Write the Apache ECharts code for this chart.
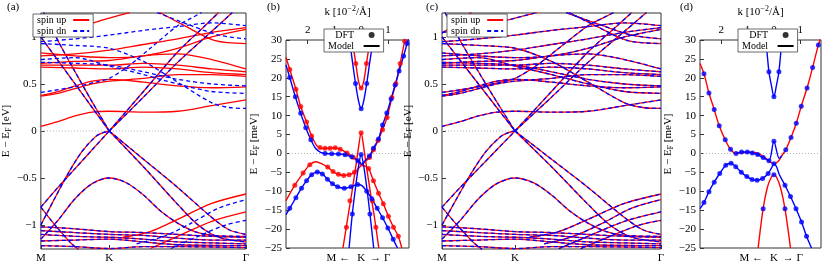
<!DOCTYPE html>
<html><head><meta charset="utf-8">
<script src="https://cdn.jsdelivr.net/npm/echarts@6/dist/echarts.min.js"></script>
<style>html,body{margin:0;padding:0;background:#fff}#c{width:822px;height:264px}</style>
</head><body><div id="c"></div>
<script>
// ---------- tick labels / categories ----------
const pathTicks = [0, 1, 3];
const pathNames = ['M', 'K', 'Γ'];
const eTicksEV = [-1, -0.5, 0, 0.5, 1];
const kTicks = [-2, -1, 0, 1];
const kPathPos = [-0.86, 0, 0.72];
const kPathNames = ['M ←', 'K', '→ Γ'];
const legendAC = ['spin up', 'spin dn'];
const legendBD = ['DFT', 'Model'];

// ---------- panels (a),(c): bands, x: M=0, K=1, Γ=3 ; E in eV ----------
const bandsBoth = [
  [[0,-0.81],[0.25,-0.6],[0.5,-0.4],[0.75,-0.2],[1,0]],
  [[0,-1.0],[0.2,-0.72],[0.4,-0.45],[0.6,-0.22],[0.8,-0.06],[0.9,-0.02],[1,0]],
  [[1,0],[1.5,-0.3],[2,-0.6],[2.5,-0.92],[2.75,-1.05],[3,-1.1]],
  [[1,0],[1.5,-0.38],[2,-0.78],[2.3,-1.0],[2.6,-1.13],[3,-1.18]],
  [[0,-1.15],[0.25,-0.95],[0.5,-0.72],[0.75,-0.56],[1,-0.5],[1.25,-0.55],[1.5,-0.68],[1.75,-0.85],[2,-0.98],[2.25,-1.07],[2.5,-1.11],[3,-1.12]],
  [[0,1.0],[0.25,0.75],[0.5,0.5],[0.75,0.25],[1,0]],
  [[0.04,1.26],[0.25,0.96],[0.5,0.63],[0.75,0.31],[1,0]],
  [[1,0],[1.5,0.36],[2,0.73],[2.5,1.06],[2.8,1.26]],
  [[1,0],[1.5,0.42],[2,0.84],[2.4,1.12],[2.6,1.26]],
  [[0,-0.81],[0.15,-0.95],[0.3,-1.08],[0.45,-1.2],[0.55,-1.26]],
  [[0,-1.02],[0.5,-1.04],[1,-1.07],[1.5,-1.08],[2,-1.1],[2.5,-1.12],[3,-1.13]],
  [[0,-1.06],[0.5,-1.08],[1,-1.1],[1.5,-1.11],[2,-1.14],[2.5,-1.16],[3,-1.16]],
  [[0,-1.1],[0.5,-1.12],[1,-1.13],[1.5,-1.15],[2,-1.18],[2.5,-1.19],[3,-1.2]],
  [[0,-1.17],[0.5,-1.16],[1,-1.15],[1.5,-1.18],[2,-1.21],[3,-1.22]],
  [[0,-1.22],[0.5,-1.23],[1,-1.25],[1.5,-1.23],[2,-1.23],[3,-1.24]]
];
const bandsUp = [
  [[0,0.05],[0.25,0.1],[0.5,0.16],[0.75,0.2],[1,0.21],[1.5,0.2],[2,0.21],[2.5,0.27],[3,0.33]],
  [[0,0.37],[0.25,0.4],[0.5,0.45],[0.75,0.5],[1,0.53],[1.5,0.56],[2,0.6],[2.5,0.6],[3,0.58]],
  [[0,0.38],[0.25,0.42],[0.5,0.48],[0.75,0.53],[1,0.55],[1.5,0.52],[2,0.48],[2.5,0.46],[3,0.47]],
  [[0,0.68],[0.5,0.67],[1,0.66],[1.5,0.68],[2,0.66],[2.5,0.62],[3,0.6]],
  [[0,0.7],[0.5,0.7],[1,0.7],[1.5,0.72],[2,0.7],[2.5,0.66],[3,0.63]],
  [[0,0.72],[0.5,0.74],[1,0.75],[1.5,0.8],[2,0.82],[2.5,0.76],[3,0.66]],
  [[0,0.8],[0.5,0.82],[1,0.86],[1.5,0.92],[2,0.98],[2.5,1.05],[3,1.1]],
  [[0,0.83],[0.5,0.8],[1,0.78],[1.5,0.8],[2,0.88],[2.5,1.0],[3,1.08]],
  [[1.74,1.26],[2.1,1.12],[2.55,0.96],[3,0.93]],
  [[0,1.05],[0.5,1.1],[1,1.2],[1.3,1.26]],
  [[1.2,-1.13],[1.6,-1.07],[2,-0.94],[2.5,-0.77],[3,-0.67]],
  [[1.6,-1.25],[2,-1.12],[2.5,-0.96],[3,-0.86]]
];
const bandsDn = [
  [[0,0.41],[0.5,0.47],[0.8,0.52],[1,0.56],[1.3,0.7],[1.6,0.88],[2,1.12],[2.2,1.2],[2.35,1.26]],
  [[0,0.73],[0.5,0.72],[1,0.7],[1.5,0.63],[2,0.55],[2.5,0.5],[3,0.48]],
  [[0,0.76],[0.5,0.78],[1,0.69],[1.5,0.6],[2,0.5],[2.5,0.42],[3,0.4]],
  [[0,0.93],[0.5,0.91],[1,0.88],[1.5,0.74],[2,0.52],[2.5,0.3],[2.75,0.25],[3,0.24]],
  [[0,0.95],[0.5,0.98],[1,1.02],[1.5,1.07],[2,1.11],[2.5,1.15],[3,1.12]],
  [[0,1.04],[0.3,1.2],[0.4,1.26]],
  [[1.7,1.26],[2.2,1.12],[2.6,1.02],[3,0.98]],
  [[1.4,-1.2],[1.8,-1.12],[2.2,-0.98],[2.6,-0.82],[3,-0.73]],
  [[1.9,-1.25],[2.3,-1.12],[2.7,-1.0],[3,-0.95]]
];

// ---------- panel (b): k in 1e-2/Å, E in meV ----------
const bRedModel = [
  [[-0.33,30],[-0.2,23.8],[-0.1,19.2],[0,17.3],[0.1,19.2],[0.2,23.8],[0.33,30]],
  [[-2.81,25.4],[-2.67,22.2],[-2.44,17.0],[-2.26,12.4],[-2.04,8.3],[-1.85,4.6],[-1.65,2.0],[-1.45,1.3],[-1.2,1.4],[-0.97,1.5],[-0.78,1.1],[-0.53,0.15],[-0.3,-1.0],[-0.12,-2.2],[0,-3]],
  [[-2.81,-12.5],[-2.48,-8.4],[-2.17,-5.2],[-1.92,-3.0],[-1.7,-2.2],[-1.45,-2.8],[-1.25,-3.6],[-1.05,-4.8],[-0.85,-5.5],[-0.65,-5.8],[-0.45,-5.6],[-0.25,-5.0],[-0.1,-4.0],[0,-3.2]],
  [[-0.68,-25],[-0.5,-17],[-0.35,-10.5],[-0.2,-3.5],[-0.1,1.5],[0,5.5],[0.1,1.5],[0.2,-3.5],[0.35,-10.5],[0.5,-17],[0.66,-25]],
  [[0,-3.2],[0.15,-2.2],[0.31,-1.1],[0.46,0.95],[0.63,3.4],[0.8,6.3],[0.97,9.5],[1.15,14.8],[1.3,18.5],[1.46,23.8],[1.63,29.7],[1.7,31]],
  [[0,-3.2],[0.12,-3.3],[0.28,-4],[0.46,-7.2],[0.65,-10.5],[0.83,-13.3],[1.02,-16.6],[1.21,-19.5],[1.39,-21.9],[1.52,-25]]
];
const bBlueModel = [
  [[-0.45,31],[-0.32,24],[-0.21,18.5],[-0.1,14],[0,11.8],[0.1,14],[0.21,18.5],[0.32,24],[0.43,29.1],[0.46,31]],
  [[-2.81,23.4],[-2.67,20.1],[-2.46,15.0],[-2.26,10.6],[-2.07,6.8],[-1.88,3.6],[-1.7,1.3],[-1.5,0.2],[-1.3,0],[-1.1,-0.1],[-0.85,-0.15],[-0.6,-0.35],[-0.35,-0.9],[-0.1,-1.9],[0,-2.7]],
  [[-2.81,-16.2],[-2.67,-14.5],[-2.44,-11.7],[-2.23,-9.2],[-2.04,-7.2],[-1.85,-5.6],[-1.64,-4.9],[-1.45,-5.4],[-1.26,-6.8],[-1.07,-8.0],[-0.88,-8.8],[-0.63,-9.2],[-0.38,-8.8],[-0.13,-8.2],[0.03,-8.5],[0.21,-10],[0.4,-12],[0.6,-14.5],[0.8,-17],[1.0,-19.7],[1.2,-22.7],[1.36,-25]],
  [[-0.45,-25],[-0.33,-16],[-0.21,-9],[-0.1,-3.5],[0,-0.3],[0.1,-3.5],[0.21,-9],[0.33,-16],[0.47,-25]],
  [[0,-3],[0.15,-1.9],[0.31,-0.7],[0.46,1.4],[0.65,3.8],[0.8,7.5],[0.96,10.7],[1.12,14.4],[1.27,18.1],[1.42,21.8],[1.59,25.8],[1.72,29.1],[1.8,31]]
];
const bRedDFT = [[-0.2,23.8],[0,17.3],[0.2,23.8],[-2.67,22.2],[-2.44,17.0],[-2.26,12.4],[-2.04,8.3],[-1.85,4.6],[-1.54,1.6],[-1.35,1.35],[-1.16,1.4],[-0.97,1.5],[-0.78,1.1],[-0.53,0.15],[-0.3,-1.0],
  [-2.48,-8.4],[-2.17,-5.2],[-1.92,-3.0],[-1.25,-3.6],[-1.05,-4.8],[-0.85,-5.5],[-0.65,-5.8],[-0.45,-5.6],[-0.25,-5.0],[0,5.5],[-0.55,-19.5],[-0.42,-12.5],[0.42,-12.5],[0.55,-19.5],
  [0.31,-1.1],[0.46,0.95],[0.63,3.4],[0.8,6.3],[0.97,9.5],[1.15,14.8],[1.3,18.5],[1.46,23.8],[1.63,29.7],
  [0.28,-4],[0.46,-7.2],[0.65,-10.5],[0.83,-13.3],[1.02,-16.6],[1.21,-19.5],[1.39,-21.9]];
const bBlueDFT = [[-0.21,18.5],[0,11.8],[0.21,18.5],[0.43,29.1],[-2.67,20.1],[-2.46,15.0],[-2.26,10.6],[-2.07,6.8],[-1.88,3.6],
  [-1.35,0],[-1.1,-0.1],[-0.85,-0.15],[-0.6,-0.35],[-0.35,-0.9],[-0.12,-1.9],[0,-0.3],
  [-2.67,-14.5],[-2.44,-11.7],[-2.23,-9.2],[-2.04,-7.2],[-1.85,-5.6],[-1.64,-4.9],[-1.45,-5.4],[-1.26,-6.8],[-1.07,-8.0],[-0.88,-8.8],[-0.63,-9.2],[-0.38,-8.8],[-0.13,-8.2],
  [0.31,-0.7],[0.46,1.4],[0.65,3.8],[0.8,7.5],[0.96,10.7],[1.12,14.4],[1.27,18.1],[1.42,21.8],[1.59,25.8],[1.72,29.1],
  [0.21,-10],[0.4,-12],[0.6,-14.5],[0.8,-17],[1.0,-19.7],[1.2,-22.7],[-0.33,-16],[0.33,-16]];

// ---------- panel (d) ----------
const dRedModel = [
  [[-2.81,23.8],[-2.66,21.1],[-2.47,16.0],[-2.27,11.6],[-2.08,7.3],[-1.85,3.6],[-1.65,1.1],[-1.45,0],[-1.2,0.2],[-0.9,0.3],[-0.6,0],[-0.35,-1.0],[-0.15,-2.2],[0,-2.7],[0.15,-2.2],[0.3,-0.6],[0.45,0.95],[0.65,4.2],[0.85,8.0],[1.04,12.5],[1.26,17.3],[1.47,22.7],[1.69,28.7],[1.8,31]],
  [[-0.6,-25],[-0.41,-14.6],[-0.25,-9],[-0.1,-6.3],[0,-5.6],[0.1,-6.3],[0.25,-9],[0.42,-14.6],[0.63,-25]]
];
const dBlueModel = [
  [[-0.3,30],[-0.19,21.6],[-0.09,17.8],[0,15],[0.09,17.8],[0.19,21.6],[0.3,30]],
  [[-1.44,0],[-1.23,0.4],[-1.01,0.4],[-0.82,0.1],[-0.62,-0.3],[-0.41,-1.1],[-0.19,-1.9],[0,3.2],[0.2,-1.3],[0.3,-0.6]],
  [[-2.81,-14.6],[-2.66,-13],[-2.47,-10.1],[-2.27,-7.6],[-2.06,-5.3],[-1.83,-3.1],[-1.63,-2.6],[-1.45,-3.5],[-1.24,-5],[-1.03,-6.1],[-0.83,-6.9],[-0.64,-7.1],[-0.43,-6.6],[-0.22,-5.3],[-0.09,-3.8],[0,-2.7],[0.1,-3.5],[0.2,-5.5],[0.42,-8.4],[0.63,-11.4],[0.84,-14.6],[1.05,-18.1],[1.24,-21.9],[1.43,-25]]
];
const dDFT = [[-2.66,21.1],[-2.47,16.0],[-2.27,11.6],[-2.08,7.3],[-1.85,3.6],[-1.65,1.1],
  [-1.44,0],[-1.23,0.4],[-1.01,0.4],[-0.82,0.1],[-0.62,-0.3],[-0.41,-1.1],[-0.19,-1.9],[0,3.2],[0,-2.7],[0,-5.6],
  [0.45,0.95],[0.65,4.2],[0.85,8.0],[1.04,12.5],[1.26,17.3],[1.47,22.7],[1.69,28.7],
  [-2.66,-13],[-2.47,-10.1],[-2.27,-7.6],[-2.06,-5.3],[-1.83,-3.1],[-1.63,-2.6],[-1.45,-3.5],[-1.24,-5],[-1.03,-6.1],[-0.83,-6.9],[-0.64,-7.1],[-0.43,-6.6],[-0.22,-5.3],
  [0.42,-8.4],[0.63,-11.4],[0.84,-14.6],[1.05,-18.1],[1.24,-21.9],[-0.41,-14.6],[0.42,-14.6],
  [-0.19,21.6],[0,15],[0.19,21.6]];

// ---------- styling & construction ----------
const FONT = 'Liberation Serif';
const RED = '#ff0000', BLUE = '#0000ff', AX = '#333';
const chart = echarts.init(document.getElementById('c'), null, {renderer: 'canvas'});
const minus = v => String(v).replace('-', '−');
const textBase = {fontFamily: FONT, fontSize: 11, color: '#000'};
const noLine = {show: false, onZero: false};
const grids = [
  {left: 29, top: 13, width: 217, height: 240},
  {left: 286, top: 28, width: 123, height: 225},
  {left: 442, top: 13, width: 219, height: 240},
  {left: 700, top: 28, width: 121, height: 225}
].map(g => Object.assign(g, {show: true, borderColor: AX, borderWidth: 1, backgroundColor: 'transparent'}));

function pathAxis(gi) {
  return {type: 'value', gridIndex: gi, min: 0, max: 3, position: 'bottom',
    axisLine: noLine, splitLine: {show: false},
    axisTick: {show: true, inside: true, length: 4, customValues: pathTicks, lineStyle: {color: AX}},
    axisLabel: Object.assign({}, textBase, {customValues: pathTicks, margin: 4,
      formatter: v => pathNames[pathTicks.indexOf(v)]})};
}
function kTopAxis(gi) {
  return {type: 'value', gridIndex: gi, min: -2.81, max: 1.79, position: 'top',
    name: 'k [10{sup|−2}/Å]', nameLocation: 'middle', nameGap: 21,
    nameTextStyle: Object.assign({}, textBase, {rich: {sup: {fontFamily: FONT, fontSize: 8, padding: [0, 0, 6, 0]}}}),
    axisLine: noLine, splitLine: {show: false},
    axisTick: {show: true, inside: true, length: 4, customValues: kTicks, lineStyle: {color: AX}},
    axisLabel: Object.assign({}, textBase, {customValues: kTicks, margin: 4, formatter: v => String(Math.abs(v))})};
}
function kBottomAxis(gi) {
  return {type: 'value', gridIndex: gi, min: -2.81, max: 1.79, position: 'bottom',
    axisLine: noLine, splitLine: {show: false}, axisTick: {show: false},
    axisLabel: Object.assign({}, textBase, {customValues: kPathPos, margin: 5,
      formatter: v => kPathNames[kPathPos.indexOf(v)]})};
}
function eAxisEV(gi) {
  return {type: 'value', gridIndex: gi, min: -1.255, max: 1.255,
    name: 'E − E{sub|F} [eV]', nameLocation: 'middle', nameGap: 17,
    nameTextStyle: Object.assign({}, textBase, {rich: {sub: {fontFamily: FONT, fontSize: 8, padding: [5, 0, 0, 0]}}}),
    axisLine: noLine, splitLine: {show: false},
    axisTick: {show: true, inside: true, length: 4, customValues: eTicksEV, lineStyle: {color: AX}},
    axisLabel: Object.assign({}, textBase, {customValues: eTicksEV, margin: 4, formatter: minus})};
}
function eAxisMeV(gi) {
  return {type: 'value', gridIndex: gi, min: -25, max: 30, interval: 5,
    name: 'E − E{sub|F} [meV]', nameLocation: 'middle', nameGap: 25,
    nameTextStyle: Object.assign({}, textBase, {rich: {sub: {fontFamily: FONT, fontSize: 8, padding: [5, 0, 0, 0]}}}),
    axisLine: noLine, splitLine: {show: false},
    axisTick: {show: true, inside: true, length: 4, lineStyle: {color: AX}},
    axisLabel: Object.assign({}, textBase, {margin: 4, formatter: minus})};
}
const xAxes = [pathAxis(0), kTopAxis(1), kBottomAxis(1), pathAxis(2), kTopAxis(3), kBottomAxis(3)];
const yAxes = [eAxisEV(0), eAxisMeV(1), eAxisEV(2), eAxisMeV(3)];

const series = [];
function addLine(name, pts, xi, yi, color, dashed, width, z) {
  series.push({type: 'line', name: name, data: pts, xAxisIndex: xi, yAxisIndex: yi,
    symbol: 'none', smooth: 0.3, clip: true, silent: true, z: z,
    lineStyle: {color: color, width: width, type: dashed ? [4, 3] : 'solid'},
    itemStyle: {color: color}});
}
function addZero(xi, yi, x0, x1) {
  series.push({type: 'line', data: [[x0, 0], [x1, 0]], xAxisIndex: xi, yAxisIndex: yi, symbol: 'none', silent: true, z: 1,
    lineStyle: {color: '#b0b0b0', width: 1, type: [1, 2]}});
}
// panel (a)
addZero(0, 0, 0, 3);
bandsUp.forEach(b => addLine('spin up', b, 0, 0, RED, false, 1.3, 2));
bandsBoth.forEach(b => addLine('spin up', b, 0, 0, RED, false, 1.3, 2));
bandsDn.forEach(b => addLine('spin dn', b, 0, 0, BLUE, true, 1.3, 3));
bandsBoth.forEach(b => addLine('spin dn', b, 0, 0, BLUE, true, 1.3, 3));
// panel (c)
addZero(3, 2, 0, 3);
[...bandsUp, ...bandsDn, ...bandsBoth].forEach(b => addLine('spin up', b, 3, 2, RED, false, 1.3, 2));
[...bandsUp, ...bandsDn, ...bandsBoth].forEach(b => addLine('spin dn', b, 3, 2, BLUE, true, 1.3, 3));
// panel (b)
addZero(1, 1, -2.81, 1.79);
bRedModel.forEach(b => addLine('Model', b, 1, 1, RED, false, 1.4, 2));
bBlueModel.forEach(b => addLine('Model', b, 1, 1, BLUE, false, 1.4, 2));
function addDots(pts, xi, yi, color) {
  series.push({type: 'scatter', name: 'DFT', data: pts, xAxisIndex: xi, yAxisIndex: yi, symbol: 'circle', symbolSize: 5,
    silent: true, z: 4, itemStyle: {color: color}});
}
addDots(bRedDFT, 1, 1, RED);
addDots(bBlueDFT, 1, 1, BLUE);
// panel (d)
addZero(4, 3, -2.81, 1.79);
dRedModel.forEach(b => addLine('Model', b, 4, 3, RED, false, 1.4, 2));
dBlueModel.forEach(b => addLine('Model', b, 4, 3, BLUE, false, 1.4, 3));
addDots(dDFT, 4, 3, BLUE);
// legend proxies (black)
series.push({type: 'scatter', name: 'DFT ', data: [], xAxisIndex: 1, yAxisIndex: 1, symbolSize: 5, itemStyle: {color: '#000'}});
series.push({type: 'line', name: 'Model ', data: [], xAxisIndex: 1, yAxisIndex: 1, symbol: 'none', lineStyle: {color: '#000', width: 1.4}, itemStyle: {color: '#000'}});

const hidden = {opacity: 0};
function legendAt(left, top, items) {
  return {left: left, top: top, orient: 'vertical', align: 'right', itemGap: 1, itemWidth: 16, itemHeight: 6,
    padding: [1, 3, 1, 4], borderColor: '#444', borderWidth: 0.8, backgroundColor: '#fff', selectedMode: false,
    textStyle: {fontFamily: FONT, fontSize: 10, color: '#000', padding: [0, 2, 0, 0]},
    data: items, z: 10};
}
const legends = [
  legendAt(33, 14, legendAC.map(n => ({name: n, itemStyle: hidden}))),
  legendAt(447, 14, legendAC.map(n => ({name: n, itemStyle: hidden}))),
  legendAt(324, 29, [{name: legendBD[0] + ' ', icon: 'circle'}, {name: legendBD[1] + ' ', itemStyle: hidden}]),
  legendAt(738, 29, [{name: legendBD[0] + ' ', icon: 'circle'}, {name: legendBD[1] + ' ', itemStyle: hidden}])
];

const panelTags = [['(a)', 7], ['(b)', 267], ['(c)', 426], ['(d)', 680]];
chart.setOption({
  animation: false,
  grid: grids, xAxis: xAxes, yAxis: yAxes, series: series, legend: legends,
  graphic: panelTags.map(t => ({type: 'text', left: t[1], top: 2, style: {text: t[0], font: '11px ' + FONT, fill: '#000'}}))
});
</script></body></html>
